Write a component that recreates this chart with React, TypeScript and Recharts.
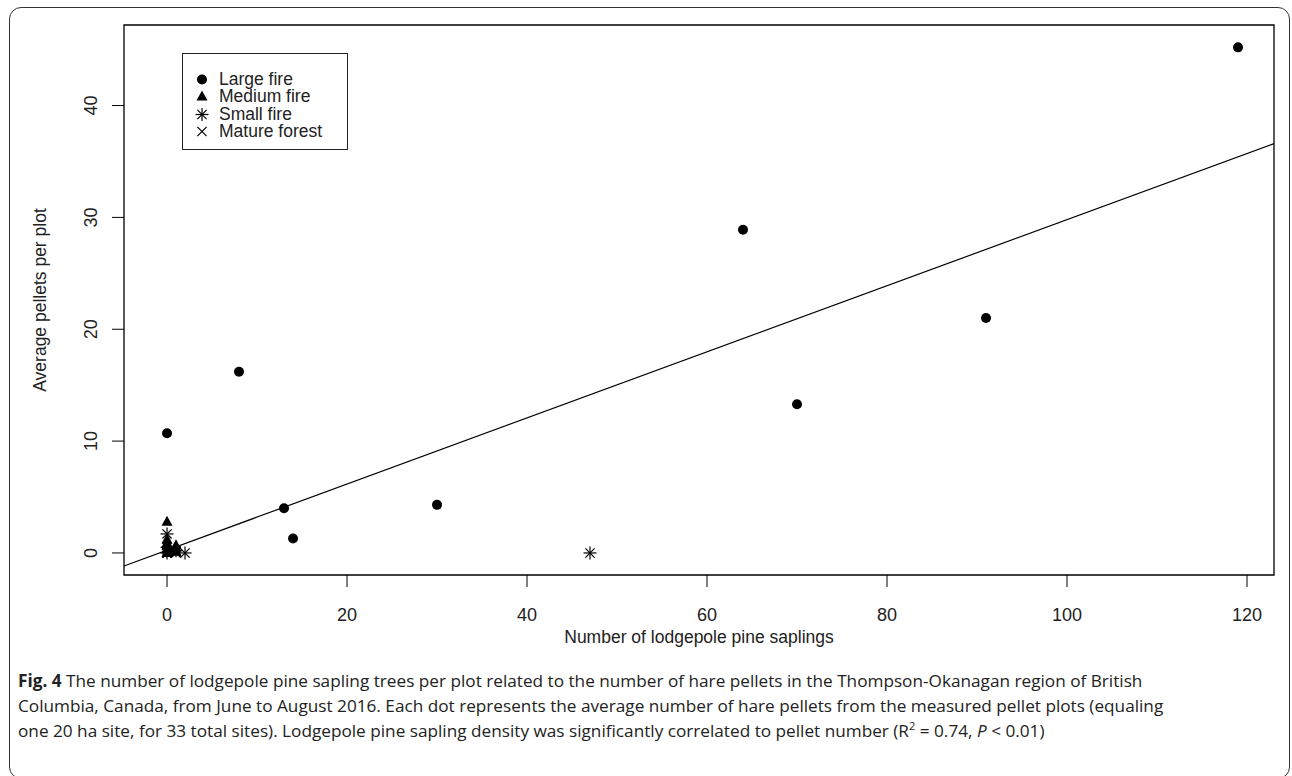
import React from 'react';
import { ScatterChart, Scatter, XAxis, YAxis, ReferenceLine, ReferenceArea } from 'recharts';

// Large fire sites (filled circles)
const largeFireX = [119, 64, 91, 70, 8, 0, 13, 30, 14];
const largeFireY = [45.2, 28.9, 21.0, 13.3, 16.2, 10.7, 4.0, 4.3, 1.3];

// Medium fire sites (triangles)
const mediumFireX = [0, 0, 0, 0, 0, 1, 1, 0, 1];
const mediumFireY = [2.8, 1.2, 0.9, 0.6, 0.3, 0.7, 0.4, 0.0, 0.1];

// Small fire sites (asterisks)
const smallFireX = [0, 47, 2, 0, 1, 0];
const smallFireY = [1.7, 0.0, 0.0, 0.5, 0.2, 0.0];

// Mature forest sites (crosses)
const matureX = [0, 0, 0, 0, 1, 0, 1, 0, 0];
const matureY = [0.0, 0.0, 0.0, 0.1, 0.0, 0.2, 0.1, 0.0, 0.0];

const xTicks = [0, 20, 40, 60, 80, 100, 120];
const yTicks = [0, 10, 20, 30, 40];
const xDomain = [-4.78, 123.0];
const yDomain = [-1.97, 47.2];

// linear fit
const fitIntercept = 0.25;
const fitSlope = 0.2955;

const legendNames = ['Large fire', 'Medium fire', 'Small fire', 'Mature forest'];

const toPoints = (xs: number[], ys: number[]) => xs.map((x, i) => ({ x, y: ys[i] }));

const fitSegment = xDomain.map((x) => ({ x, y: fitIntercept + fitSlope * x }));

const FONT = '"Liberation Sans", Arial, sans-serif';
const INK = '#222';

const Dot = ({ cx, cy }: any) => <circle cx={cx} cy={cy} r={5} fill="#000" />;
const Tri = ({ cx, cy }: any) => (
  <polygon points={`${cx},${cy - 6} ${cx - 5.5},${cy + 4} ${cx + 5.5},${cy + 4}`} fill="#000" />
);
const Star = ({ cx, cy }: any) => (
  <g stroke="#000" strokeWidth={1.2}>
    <line x1={cx - 6.5} y1={cy} x2={cx + 6.5} y2={cy} />
    <line x1={cx} y1={cy - 6.5} x2={cx} y2={cy + 6.5} />
    <line x1={cx - 4.6} y1={cy - 4.6} x2={cx + 4.6} y2={cy + 4.6} />
    <line x1={cx - 4.6} y1={cy + 4.6} x2={cx + 4.6} y2={cy - 4.6} />
  </g>
);
const Cross = ({ cx, cy }: any) => (
  <g stroke="#000" strokeWidth={1.2}>
    <line x1={cx - 4.6} y1={cy - 4.6} x2={cx + 4.6} y2={cy + 4.6} />
    <line x1={cx - 4.6} y1={cy + 4.6} x2={cx + 4.6} y2={cy - 4.6} />
  </g>
);

const shapes = [Dot, Tri, Star, Cross];

const LegendBox = () => (
  <div
    style={{
      position: 'absolute',
      left: 182,
      top: 53,
      width: 166,
      height: 97,
      border: '1.5px solid #222',
      background: '#fff',
      boxSizing: 'border-box',
      fontFamily: FONT,
      fontSize: 17.5,
      color: INK,
      paddingTop: 17,
    }}
  >
    {legendNames.map((name, i) => {
      const Shape = shapes[i];
      return (
        <div key={name} style={{ display: 'flex', alignItems: 'center', height: 17.3, lineHeight: '17px' }}>
          <svg width={36} height={17} style={{ flex: 'none' }}>
            <Shape cx={19} cy={8.5} />
          </svg>
          <span>{name}</span>
        </div>
      );
    })}
  </div>
);

const YTick = ({ x, y, payload }: any) => (
  <text
    transform={`translate(${x - 13},${y}) rotate(-90)`}
    textAnchor="middle"
    fontFamily={FONT}
    fontSize={18}
    fill={INK}
  >
    {payload.value}
  </text>
);

const XTick = ({ x, y, payload }: any) => (
  <text x={x} y={y + 32} textAnchor="middle" fontFamily={FONT} fontSize={18} fill={INK}>
    {payload.value}
  </text>
);

export default function App() {
  return (
    <div style={{ position: 'absolute', left: 0, top: 0, width: 1292, height: 776, background: '#fff', overflow: 'hidden' }}>
      <div
        style={{
          position: 'absolute',
          left: 9,
          top: 7,
          width: 1281,
          height: 772,
          border: '1.5px solid #333',
          borderRadius: 12,
          boxSizing: 'border-box',
        }}
      />
      <div style={{ position: 'absolute', left: 0, top: 0 }}>
        <ScatterChart width={1292} height={776} margin={{ top: 25, right: 18, bottom: 151, left: 64 }}>
          <XAxis
            type="number"
            dataKey="x"
            domain={xDomain}
            ticks={xTicks}
            allowDataOverflow
            tickSize={12}
            height={50}
            stroke="#000"
            axisLine={false}
            tick={<XTick />}
            label={{ value: 'Number of lodgepole pine saplings', position: 'insideBottom', offset: -18, fontFamily: FONT, fontSize: 17.5, fill: INK }}
          />
          <YAxis
            type="number"
            dataKey="y"
            domain={yDomain}
            ticks={yTicks}
            allowDataOverflow
            tickSize={12}
            width={60}
            stroke="#000"
            axisLine={false}
            tick={<YTick />}
          />
          <ReferenceArea
            x1={xDomain[0]}
            x2={xDomain[1]}
            y1={yDomain[0]}
            y2={yDomain[1]}
            fill="none"
            fillOpacity={0}
            stroke="#000"
            strokeWidth={1.3}
          />
          <ReferenceLine segment={fitSegment} stroke="#000" strokeWidth={1.2} />
          <Scatter data={toPoints(matureX, matureY)} shape={<Cross />} isAnimationActive={false} />
          <Scatter data={toPoints(smallFireX, smallFireY)} shape={<Star />} isAnimationActive={false} />
          <Scatter data={toPoints(mediumFireX, mediumFireY)} shape={<Tri />} isAnimationActive={false} />
          <Scatter data={toPoints(largeFireX, largeFireY)} shape={<Dot />} isAnimationActive={false} />
        </ScatterChart>
      </div>
      <LegendBox />
      <div
        style={{
          position: 'absolute',
          left: 40,
          top: 300,
          transform: 'translate(-50%, -50%) rotate(-90deg)',
          fontFamily: FONT,
          fontSize: 17.5,
          color: INK,
          whiteSpace: 'nowrap',
        }}
      >
        Average pellets per plot
      </div>
      <div
        style={{
          position: 'absolute',
          left: 18,
          top: 668,
          fontFamily: '"Open Sans", sans-serif',
          fontSize: 17.2,
          lineHeight: '25px',
          color: '#222',
          whiteSpace: 'nowrap',
        }}
      >
        <div>
          <b>Fig. 4</b> The number of lodgepole pine sapling trees per plot related to the number of hare pellets in the Thompson-Okanagan region of British
        </div>
        <div>
          Columbia, Canada, from June to August 2016. Each dot represents the average number of hare pellets from the measured pellet plots (equaling
        </div>
        <div>
          one 20 ha site, for 33 total sites). Lodgepole pine sapling density was significantly correlated to pellet number (R
          <sup style={{ fontSize: 11, lineHeight: 0 }}>2</sup> = 0.74, <i>P</i> &lt; 0.01)
        </div>
      </div>
    </div>
  );
}
